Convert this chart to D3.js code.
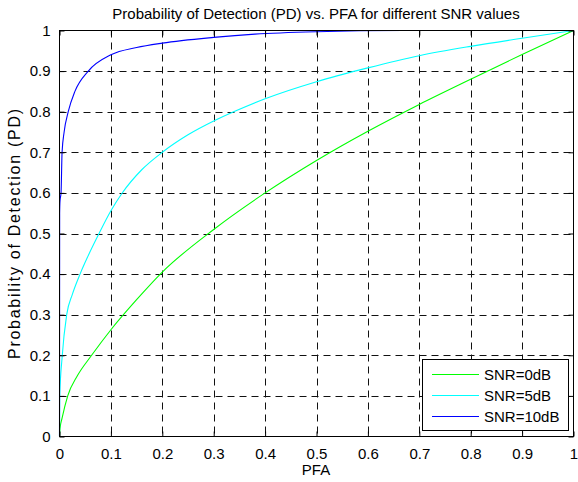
<!DOCTYPE html>
<html>
<head>
<meta charset="utf-8">
<script src="https://cdn.jsdelivr.net/npm/d3@7"></script>
<style>
  body { margin: 0; background: #fff; }
  svg { font-family: "Liberation Sans", Arial, Helvetica, sans-serif; }
</style>
</head>
<body>
<svg id="chart" width="578" height="482"></svg>
<script>
// values
const seriesNames = ["SNR=0dB", "SNR=5dB", "SNR=10dB"];
const seriesColors = ["#00ff00", "#00ffff", "#0000ff"];

const pfa0 = [0, 0.001, 0.005, 0.016, 0.035, 0.0625, 0.1, 0.15, 0.2, 0.3, 0.4, 0.5, 0.6, 0.7, 0.8, 0.9, 1];
const pd0  = [0, 0.02, 0.045, 0.1, 0.15, 0.2, 0.263, 0.337, 0.405, 0.51, 0.6, 0.68, 0.752, 0.818, 0.88, 0.941, 1];

const pfa5 = [0, 0.0005, 0.005, 0.014, 0.025, 0.04, 0.055, 0.075, 0.1, 0.121, 0.16, 0.2, 0.25, 0.3, 0.341, 0.4, 0.5, 0.6, 0.7, 0.8, 0.9, 1];
const pd5  = [0, 0.1, 0.194, 0.3, 0.35, 0.4, 0.443, 0.495, 0.556, 0.598, 0.657, 0.7, 0.743, 0.777, 0.801, 0.832, 0.874, 0.908, 0.938, 0.961, 0.981, 1];

const pfa10 = [0, 0.0003, 0.001, 0.003, 0.005, 0.009, 0.017, 0.03, 0.056, 0.1, 0.15, 0.2, 0.3, 0.38, 0.5, 0.67, 1];
const pd10  = [0, 0.55, 0.58, 0.6, 0.7, 0.75, 0.8, 0.85, 0.9, 0.94, 0.958, 0.969, 0.983, 0.991, 0.997, 1, 1];

const xTicks = [0, 0.1, 0.2, 0.3, 0.4, 0.5, 0.6, 0.7, 0.8, 0.9, 1];
const yTicks = [0, 0.1, 0.2, 0.3, 0.4, 0.5, 0.6, 0.7, 0.8, 0.9, 1];

const allSeries = [
  { name: seriesNames[0], color: seriesColors[0], pts: d3.zip(pfa0, pd0) },
  { name: seriesNames[1], color: seriesColors[1], pts: d3.zip(pfa5, pd5) },
  { name: seriesNames[2], color: seriesColors[2], pts: d3.zip(pfa10, pd10) }
];

const svg = d3.select("#chart");
const plot = { left: 59.5, right: 573.5, top: 30.5, bottom: 436.5 };
const w = plot.right - plot.left, h = plot.bottom - plot.top;

const x = d3.scaleLinear().domain([0, 1]).range([plot.left, plot.right]);
const y = d3.scaleLinear().domain([0, 1]).range([plot.bottom, plot.top]);
const fmt = d => String(+d.toFixed(1));

// dashed grid
const grid = svg.append("g").attr("class", "grid");
grid.selectAll("line.v").data(xTicks.slice(1, -1)).enter().append("line")
  .attr("x1", d => Math.round(x(d)) + 0.5).attr("x2", d => Math.round(x(d)) + 0.5)
  .attr("y1", plot.top).attr("y2", plot.bottom);
grid.selectAll("line.h").data(yTicks.slice(1, -1)).enter().append("line")
  .attr("y1", d => Math.round(y(d)) + 0.5).attr("y2", d => Math.round(y(d)) + 0.5)
  .attr("x1", plot.left).attr("x2", plot.right);
grid.selectAll("line")
  .attr("stroke", "#111").attr("stroke-width", 1).attr("stroke-dasharray", "7,5");

// curves
const line = d3.line().x(d => x(d[0])).y(d => y(d[1])).curve(d3.curveMonotoneX);
svg.append("g").selectAll("path").data(allSeries).enter().append("path")
  .attr("d", d => line(d.pts))
  .attr("fill", "none")
  .attr("stroke", d => d.color)
  .attr("stroke-width", 1.1);

// axes, ticks pointing inward like matlab
const styleAxis = g => {
  g.select(".domain").remove();
  g.selectAll(".tick line").attr("stroke", "#000");
  g.selectAll("text").attr("fill", "#000").style("font-size", "15px");
};
svg.append("g").attr("transform", `translate(0,${plot.bottom})`)
  .call(d3.axisBottom(x).tickValues(xTicks).tickFormat(fmt).tickSizeInner(-5).tickPadding(12))
  .call(styleAxis);
svg.append("g").attr("transform", `translate(${plot.left},0)`)
  .call(d3.axisLeft(y).tickValues(yTicks).tickFormat(fmt).tickSizeInner(-5).tickPadding(9))
  .call(styleAxis);
svg.append("g").attr("transform", `translate(0,${plot.top})`)
  .call(d3.axisTop(x).tickValues(xTicks).tickFormat("").tickSizeInner(-5))
  .call(styleAxis);
svg.append("g").attr("transform", `translate(${plot.right},0)`)
  .call(d3.axisRight(y).tickValues(yTicks).tickFormat("").tickSizeInner(-5))
  .call(styleAxis);

svg.append("rect")
  .attr("x", plot.left).attr("y", plot.top).attr("width", w).attr("height", h)
  .attr("fill", "none").attr("stroke", "#000").attr("stroke-width", 1);

// labels
svg.append("text").attr("x", 316).attr("y", 19).attr("text-anchor", "middle")
  .style("font-size", "15px").text("Probability of Detection (PD) vs. PFA for different SNR values");
svg.append("text").attr("x", 316).attr("y", 475).attr("text-anchor", "middle")
  .style("font-size", "15px").text("PFA");
svg.append("text").attr("transform", "translate(20,234) rotate(-90)")
  .attr("text-anchor", "middle").attr("textLength", 250).attr("lengthAdjust", "spacing")
  .style("font-size", "16px").text("Probability of Detection (PD)");

// legend
const leg = svg.append("g");
leg.append("rect").attr("x", 422.5).attr("y", 359.5).attr("width", 146).attr("height", 71)
  .attr("fill", "#fff").attr("stroke", "#000").attr("stroke-width", 1);
const rows = leg.selectAll("g.row").data(allSeries).enter().append("g")
  .attr("transform", (d, i) => `translate(0,${[374.5, 395.5, 416.5][i]})`);
rows.append("line").attr("x1", 432).attr("x2", 479).attr("y1", 0).attr("y2", 0)
  .attr("stroke", d => d.color).attr("stroke-width", 1.1);
rows.append("text").attr("x", 484).attr("y", 5.5).style("font-size", "15px").text(d => d.name);
</script>
</body>
</html>
